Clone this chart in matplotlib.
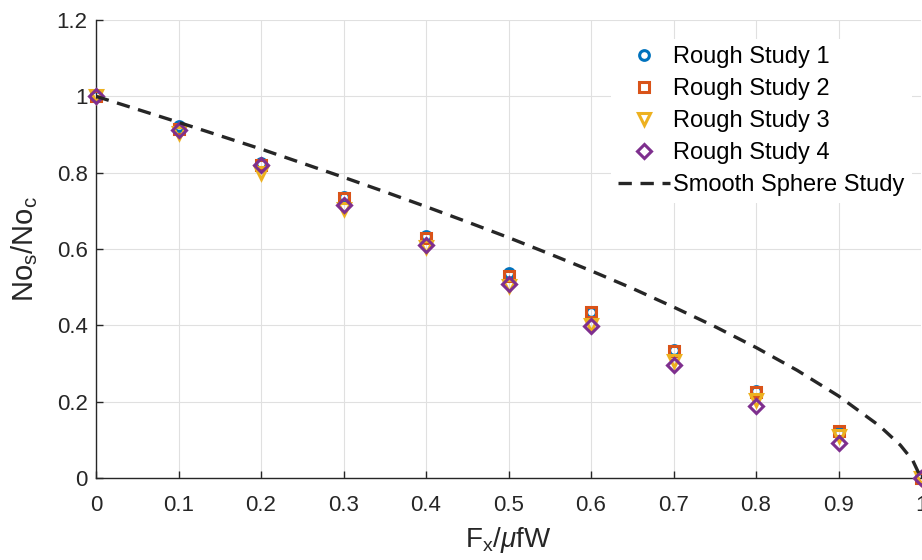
import matplotlib.pyplot as plt
import numpy as np

plt.rcParams['font.family'] = ['Liberation Sans', 'DejaVu Sans']
plt.rcParams['mathtext.fontset'] = 'custom'
plt.rcParams['mathtext.rm'] = 'Liberation Sans'
plt.rcParams['mathtext.it'] = 'Liberation Sans:italic'

# data
fx = [0.0, 0.1, 0.2, 0.3, 0.4, 0.5, 0.6, 0.7, 0.8, 0.9, 1.0]
rough1 = [1.0, 0.923, 0.826, 0.735, 0.635, 0.536, 0.436, 0.335, 0.227, 0.117, 0.0]
rough2 = [1.0, 0.915, 0.820, 0.733, 0.630, 0.530, 0.435, 0.332, 0.225, 0.122, 0.0]
rough3 = [1.0, 0.903, 0.800, 0.705, 0.605, 0.502, 0.402, 0.306, 0.205, 0.109, 0.0]
rough4 = [1.0, 0.911, 0.821, 0.714, 0.610, 0.508, 0.398, 0.297, 0.189, 0.093, 0.0]

smooth_x = [0.0, 0.05, 0.1, 0.15, 0.2, 0.25, 0.3, 0.35, 0.4, 0.45, 0.5, 0.55,
            0.6, 0.65, 0.7, 0.75, 0.8, 0.85, 0.9, 0.95, 0.975, 0.99, 1.0]
smooth_y = [1.0, 0.966, 0.932, 0.897, 0.862, 0.825, 0.788, 0.750, 0.711, 0.671,
            0.630, 0.587, 0.543, 0.497, 0.448, 0.397, 0.342, 0.282, 0.215, 0.136,
            0.086, 0.046, 0.0]

labels = ['Rough Study 1', 'Rough Study 2', 'Rough Study 3', 'Rough Study 4']
markers = ['o', 's', 'v', 'D']
colors = ['#0072BD', '#D95319', '#EDB120', '#7E2F8E']
sizes = [7, 6.5, 8, 7]

fig = plt.figure(figsize=(9.22, 5.60), dpi=100)
ax = fig.add_axes([96 / 922, 1 - 478 / 560, 825 / 922, 458 / 560])

for ys, m, c, s, lab in zip([rough1, rough2, rough3, rough4], markers, colors, sizes, labels):
    ax.plot(fx, ys, linestyle='none', marker=m, markersize=s, markerfacecolor='none',
            markeredgecolor=c, markeredgewidth=2.2, label=lab, clip_on=False, zorder=3)

ax.plot(smooth_x, smooth_y, linestyle=(0, (4, 2.6)), color='#262626', linewidth=2.4,
        label='Smooth Sphere Study', zorder=4)

ax.set_xlim(0, 1)
ax.set_ylim(0, 1.2)
ax.set_xticks(np.arange(0, 1.01, 0.1))
ax.set_xticklabels(['0', '0.1', '0.2', '0.3', '0.4', '0.5', '0.6', '0.7', '0.8', '0.9', '1'])
ax.set_yticks([0, 0.2, 0.4, 0.6, 0.8, 1.0, 1.2])
ax.set_yticklabels(['0', '0.2', '0.4', '0.6', '0.8', '1', '1.2'])

ax.grid(True, color='#e0e0e0', linewidth=0.8)
ax.set_axisbelow(True)
for side in ['top', 'right']:
    ax.spines[side].set_visible(False)
for side in ['left', 'bottom']:
    ax.spines[side].set_color('#262626')
    ax.spines[side].set_linewidth(1.0)
ax.tick_params(direction='in', length=5, width=1, colors='#262626', labelsize=16,
               labelcolor='#262626')
ax.tick_params(axis='x', pad=12)
ax.tick_params(axis='y', pad=6)

ax.set_xlabel(r'F$_{\rm x}$/$\mu$fW', fontsize=20, color='#262626', labelpad=7)
ax.set_ylabel(r'No$_{\rm s}$/No$_{\rm c}$', fontsize=21, color='#262626', labelpad=12)

leg = ax.legend(loc='upper right', bbox_to_anchor=(0.989, 0.958), fontsize=17,
                frameon=True, edgecolor='none', facecolor='white', framealpha=1,
                handlelength=2.2, handletextpad=0.15, labelspacing=0.42,
                borderpad=0.3, borderaxespad=0)
leg.get_frame().set_linewidth(0)

fig.savefig('out.png', dpi=100)
